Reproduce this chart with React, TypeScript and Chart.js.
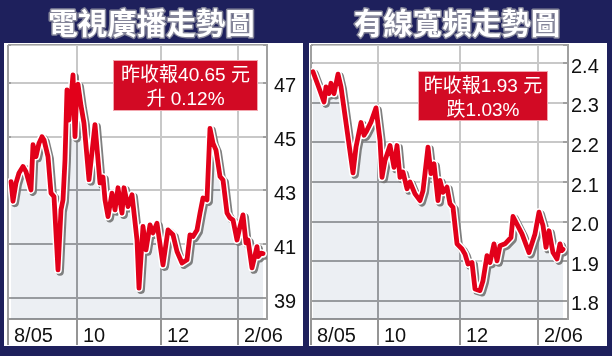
import React, { useEffect, useRef } from 'react';
import { Chart, registerables } from 'chart.js';

Chart.register(...registerables);

// ---------------- data ----------------
const monthLabels = ['8/05', '10', '12', '2/06'];

const tvbTitle = '電視廣播走勢圖';
const tvbNote = ['昨收報40.65 元', '升 0.12%'];
const tvbMonthDays = [0, 34.5, 76.5, 115];
const tvbYTicks = [39, 41, 43, 45, 47];
const tvbDays = [
  1.5, 2.5, 4, 5.5, 7.5, 9, 11.5, 12.5, 14, 15.5,
  17, 18, 20, 21.5, 23, 25, 26.5, 27.5, 28.5, 29.5,
  30.5, 32.5, 33.5, 34.5, 35, 36.5, 38, 40.5, 43.5, 46,
  47.5, 48.5, 50, 52, 53.5, 55, 57, 58, 60, 62,
  64.5, 65.5, 67.5, 69, 71, 72.5, 74.5, 77.5, 80, 82.5,
  84.5, 87, 89.5, 91, 92.5, 94.5, 96, 97.5, 99.5, 101,
  102.5, 104, 106, 107.5, 109.5, 111, 112.5, 114.5, 116, 117.5,
  119, 120, 122, 124.5, 125, 126.5, 127.5,
];
const tvbPrices = [
  43.33, 42.6, 43.28, 43.65, 43.89, 43.7, 43.02, 44.7, 44.26, 44.76,
  45.0, 44.88, 44.26, 42.9, 42.77, 40.05, 42.28, 42.65, 44.14, 46.74,
  45.62, 47.3, 45.0, 46.9, 46.95, 46.15, 45.5, 43.4, 45.45, 43.28,
  43.5, 42.65, 42.03, 42.9, 42.28, 43.1, 42.16, 43.1, 42.4, 42.84,
  41.16, 39.37, 41.66, 40.79, 41.72, 41.42, 41.78, 40.23, 41.53, 41.35,
  40.73, 40.3, 40.42, 41.35, 41.29, 41.53, 42.16, 42.72, 42.65, 45.31,
  44.76, 44.5, 43.52, 43.39, 42.16, 41.98, 41.9, 41.16, 41.66, 42.09,
  41.05, 41.16, 40.12, 40.91, 40.54, 40.67, 40.65,
];

const cableTitle = '有線寬頻走勢圖';
const cableNote = ['昨收報1.93 元', '跌1.03%'];
const cableMonthDays = [0, 33.5, 74.5, 113.5];
const cableYTicks = [1.8, 1.9, 2.0, 2.1, 2.2, 2.3, 2.4];
const cableDays = [
  1, 3.5, 6.5, 7.5, 9, 10, 11.5, 13.5, 15, 18.5,
  21, 22.5, 25, 26.5, 27.5, 30, 32.5, 34.5, 35.5, 37,
  39.5, 41.5, 43, 44.5, 46, 48, 49.5, 52, 54.5, 56,
  58.5, 60, 61.5, 63.5, 64.5, 66, 68, 69.5, 71, 73,
  75.5, 77, 78.5, 80.5, 82, 84.5, 86, 88, 89.5, 91.5,
  93, 94.5, 97, 100, 101, 105.5, 109, 112, 114, 116,
  117.5, 119, 121, 123, 124.5, 125.5, 126,
];
const cablePrices = [
  2.378, 2.344, 2.302, 2.34, 2.323, 2.349, 2.323, 2.372, 2.34, 2.213,
  2.123, 2.188, 2.25, 2.218, 2.226, 2.251, 2.287, 2.205, 2.112, 2.154,
  2.192, 2.137, 2.192, 2.112, 2.125, 2.083, 2.1, 2.07, 2.053, 2.078,
  2.188, 2.121, 2.146, 2.053, 2.104, 2.074, 2.087, 2.045, 2.036, 1.944,
  1.931, 1.918, 1.893, 1.897, 1.83, 1.826, 1.851, 1.914, 1.897, 1.944,
  1.901, 1.939, 1.944, 1.96, 2.013, 1.969, 1.922, 1.969, 2.024, 1.99,
  1.935, 1.977, 1.922, 1.906, 1.944, 1.927, 1.93,
];

// ---------------- styles ----------------
const NAVY = '#1e205c';
const RED = '#e2001a';
const BOX_RED = '#d20a24';
const GRID = '#a0a0a0';
const TICK = '#959595';
const FILL_BELOW = 'rgba(92,118,152,0.117)';
const FILL_ABOVE = 'rgba(255,255,255,0.42)';
const LABEL_FONT = '"Liberation Sans", Arial, sans-serif';
const CJK_FONT = '"Noto Sans CJK TC", "Noto Sans CJK SC", sans-serif';

interface PanelSpec {
  left: number;
  title: string;
  note: string[];
  days: number[];
  prices: number[];
  monthDays: number[];
  yTicks: number[];
  yMin: number;
  yMax: number;
  xMax: number;
  decimals: number;
  panelX: [number, number];
  titleX: number;
  box: [number, number, number, number];
  noteY: [number, number];
  padLeft: number;
  padRight: number;
  yWidth: number;
  yPad: number;
}

const panels: PanelSpec[] = [
  {
    left: 0,
    title: tvbTitle,
    note: tvbNote,
    days: tvbDays,
    prices: tvbPrices,
    monthDays: tvbMonthDays,
    yTicks: tvbYTicks,
    yMin: 38.22,
    yMax: 48.41,
    xMax: 129.5,
    decimals: 0,
    panelX: [4, 303],
    titleX: 151.5,
    box: [113, 60, 145, 51],
    noteY: [75.5, 99.5],
    padLeft: 8,
    padRight: 4,
    yWidth: 35,
    yPad: 7,
  },
  {
    left: 306,
    title: cableTitle,
    note: cableNote,
    days: cableDays,
    prices: cablePrices,
    monthDays: cableMonthDays,
    yTicks: cableYTicks,
    yMin: 1.7544,
    yMax: 2.4456,
    xMax: 128.5,
    decimals: 1,
    panelX: [3, 301],
    titleX: 151,
    box: [112, 71, 130, 50],
    noteY: [86.5, 110.5],
    padLeft: 5,
    padRight: 6,
    yWidth: 38,
    yPad: 3,
  },
];

function buildConfig(s: PanelSpec): any {
  const pts = s.days.map((d, i) => ({ x: d, y: s.prices[i] }));
  const clear = 'rgba(0,0,0,0)';
  const base = { pointRadius: 0, tension: 0, borderJoinStyle: 'round', borderCapStyle: 'round' };

  const decor = {
    id: 'decor',
    beforeDraw(chart: any) {
      const ctx = chart.ctx;
      ctx.save();
      ctx.fillStyle = NAVY;
      ctx.fillRect(0, 0, chart.width, chart.height);
      ctx.fillStyle = '#ffffff';
      ctx.fillRect(s.panelX[0], 43, s.panelX[1] - s.panelX[0], 303);
      ctx.font = `bold 29.5px ${CJK_FONT}`;
      ctx.textAlign = 'center';
      ctx.textBaseline = 'middle';
      ctx.lineJoin = 'round';
      ctx.lineWidth = 3;
      ctx.strokeStyle = '#85869a';
      ctx.strokeText(s.title, s.titleX, 22.5);
      ctx.fillStyle = '#ffffff';
      ctx.fillText(s.title, s.titleX, 22.5);
      ctx.restore();
    },
    beforeDatasetDraw(chart: any, args: any) {
      if (args.index === 1) {
        const ctx = chart.ctx;
        ctx.save();
        ctx.shadowColor = 'rgba(120,120,120,0.95)';
        ctx.shadowOffsetX = 2;
        ctx.shadowOffsetY = 2;
        ctx.shadowBlur = 0;
      }
    },
    afterDatasetDraw(chart: any, args: any) {
      if (args.index === 1) chart.ctx.restore();
    },
    afterDraw(chart: any) {
      const ctx = chart.ctx;
      const [bx, by, bw, bh] = s.box;
      ctx.save();
      ctx.fillStyle = BOX_RED;
      ctx.fillRect(bx, by, bw, bh);
      ctx.strokeStyle = '#f2a6ae';
      ctx.lineWidth = 1;
      ctx.strokeRect(bx + 0.5, by + 0.5, bw - 1, bh - 1);
      ctx.fillStyle = '#ffffff';
      ctx.font = `19px "Liberation Sans", Arial, ${CJK_FONT}`;
      ctx.textAlign = 'center';
      ctx.textBaseline = 'middle';
      const cx = bx + bw / 2;
      ctx.fillText(s.note[0], cx, s.noteY[0]);
      ctx.fillText(s.note[1], cx, s.noteY[1]);
      ctx.restore();
    },
  };

  return {
    type: 'line',
    data: {
      datasets: [
        { ...base, data: pts, borderColor: RED, borderWidth: 4.8, fill: false },
        { ...base, data: pts, borderColor: '#ffffff', borderWidth: 7.8, fill: false },
        { ...base, data: pts, borderColor: clear, borderWidth: 0, backgroundColor: FILL_BELOW, fill: 'start' },
        { ...base, data: pts, borderColor: clear, borderWidth: 0, backgroundColor: FILL_ABOVE, fill: 'end' },
      ],
    },
    options: {
      responsive: false,
      animation: false,
      devicePixelRatio: 1,
      events: [],
      layout: { padding: { left: s.padLeft, right: s.padRight, top: 45, bottom: 10 } },
      plugins: { legend: { display: false }, tooltip: { enabled: false }, title: { display: false } },
      scales: {
        x: {
          type: 'linear',
          position: 'bottom',
          min: 0,
          max: s.xMax,
          afterBuildTicks: (axis: any) => {
            axis.ticks = s.monthDays.map((v) => ({ value: v }));
          },
          afterFit: (axis: any) => {
            axis.height = 27;
          },
          ticks: {
            callback: (_v: any, i: number) => monthLabels[i] ?? '',
            align: 'start',
            labelOffset: 6,
            padding: -21,
            autoSkip: false,
            maxRotation: 0,
            minRotation: 0,
            color: '#111111',
            font: { family: LABEL_FONT, size: 20 },
          },
          grid: { color: GRID, lineWidth: 2, drawTicks: true, tickLength: 26, tickColor: TICK, tickWidth: 2 },
          border: { display: true, color: TICK, width: 2 },
        },
        y: {
          type: 'linear',
          position: 'right',
          min: s.yMin,
          max: s.yMax,
          afterBuildTicks: (axis: any) => {
            axis.ticks = [...s.yTicks.map((v) => ({ value: v })), { value: s.yMax }];
          },
          afterFit: (axis: any) => {
            axis.width = s.yWidth;
          },
          ticks: {
            callback: (v: any) => (s.yTicks.includes(v) ? Number(v).toFixed(s.decimals) : ''),
            padding: s.yPad,
            labelOffset: 4,
            color: '#111111',
            font: { family: LABEL_FONT, size: 20 },
          },
          grid: { color: GRID, lineWidth: 2, drawTicks: false },
          border: { display: true, color: GRID, width: 2 },
        },
      },
    },
    plugins: [decor],
  };
}

function Panel({ spec }: { spec: PanelSpec }) {
  const ref = useRef<HTMLCanvasElement>(null);
  useEffect(() => {
    if (!ref.current) return;
    const chart = new Chart(ref.current, buildConfig(spec));
    return () => chart.destroy();
  }, [spec]);
  return (
    <canvas
      ref={ref}
      width={306}
      height={356}
      style={{ position: 'absolute', left: spec.left, top: 0, width: 306, height: 356, display: 'block' }}
    />
  );
}

export default function App() {
  return (
    <div
      style={{
        position: 'fixed',
        left: 0,
        top: 0,
        width: 612,
        height: 356,
        background: NAVY,
        overflow: 'hidden',
      }}
    >
      {panels.map((p) => (
        <Panel key={p.title} spec={p} />
      ))}
    </div>
  );
}
